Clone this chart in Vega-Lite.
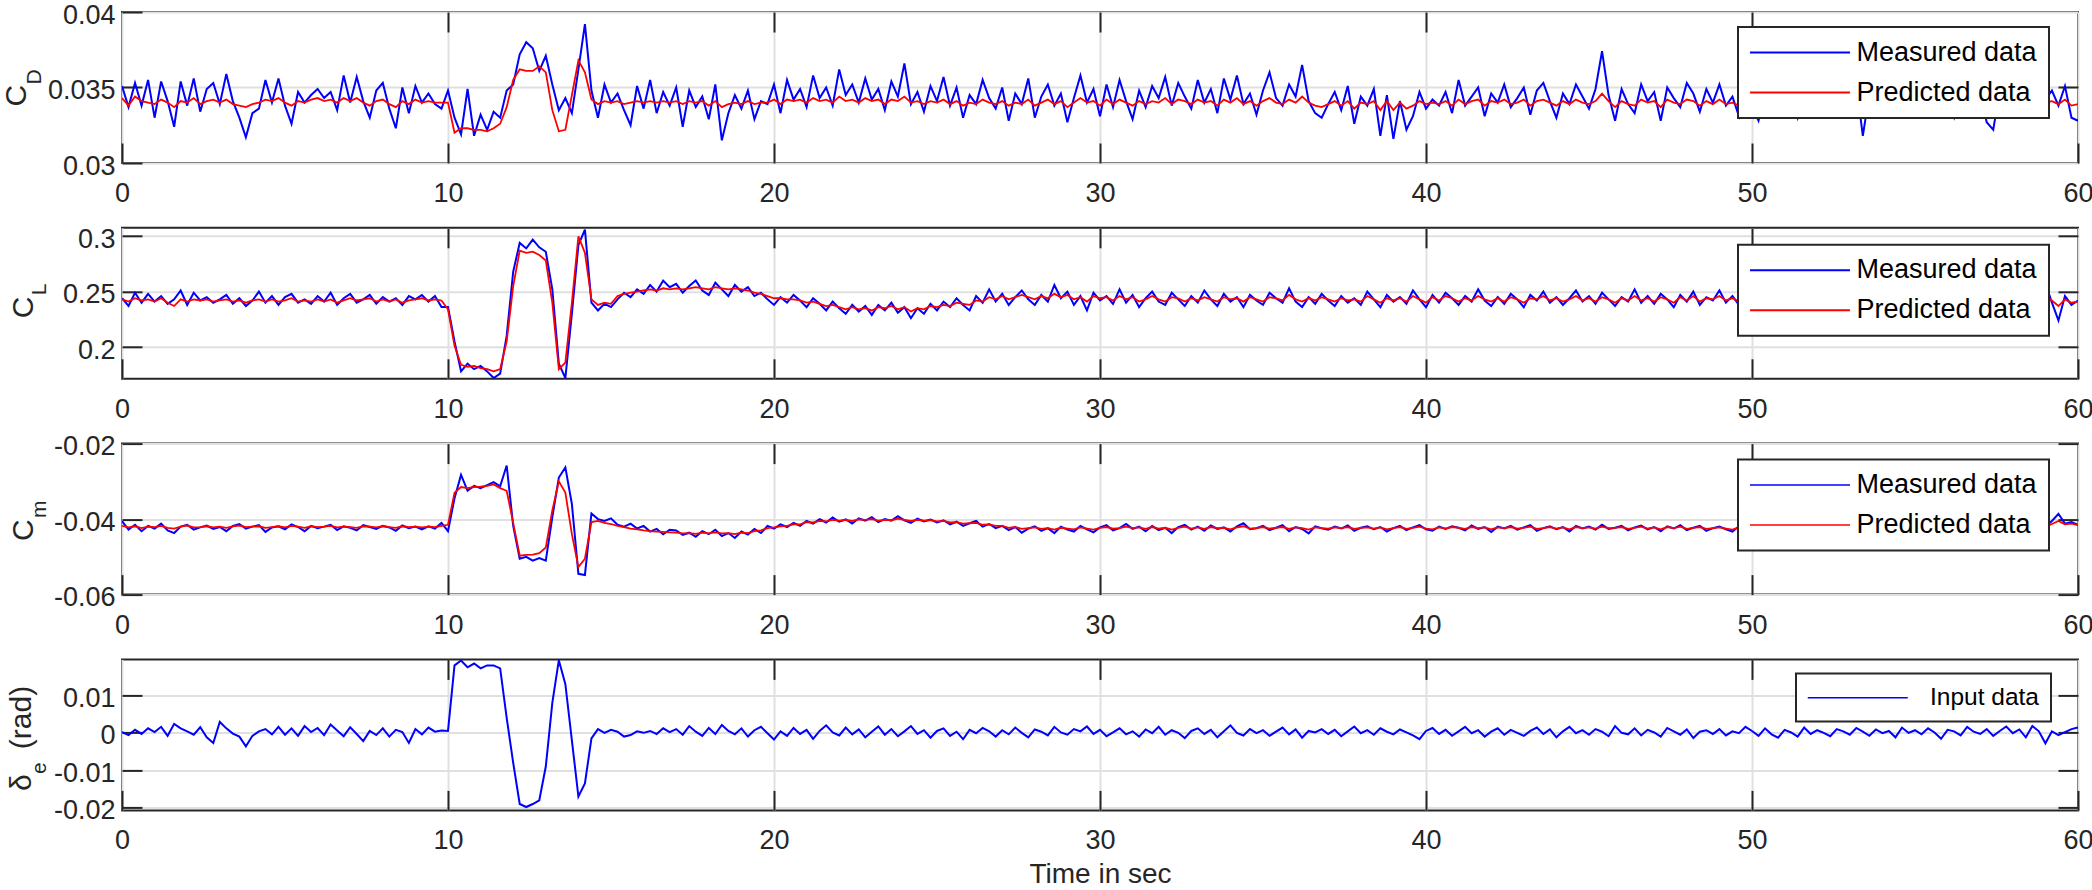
{
"$schema":"https://vega.github.io/schema/vega-lite/v6.json",
"background":"#ffffff",
"padding":0,
"config":{
 "font":"Liberation Sans",
 "view":{"stroke":"#262626","strokeWidth":2},
 "axis":{"labelFont":"Liberation Sans","labelFontSize":27,"labelColor":"#262626","titleFont":"Liberation Sans","titleFontWeight":"normal","titleColor":"#262626","tickColor":"#262626","tickWidth":2,"tickSize":-20,"domain":false,"gridColor":"#e0e0e0","gridWidth":2,"labelFlush":false,"labelOverlap":false},
 "legend":{"labelFont":"Liberation Sans","labelFontSize":27,"labelColor":"#000000","labelLimit":400,"padding":12,"rowPadding":12,"strokeColor":"#262626","fillColor":"#ffffff","cornerRadius":0}
},
"datasets":{"d":[
{"t":0,"cdM":0.0351,"cdP":0.0343,"clM":0.244,"clP":0.243,"cmM":-0.0405,"cmP":-0.0418,"de":0.0002},
{"t":0.2,"cdM":0.0337,"cdP":0.0338,"clM":0.237,"clP":0.241,"cmM":-0.0428,"cmP":-0.0422,"de":-0.0006},
{"t":0.4,"cdM":0.0353,"cdP":0.0344,"clM":0.249,"clP":0.244,"cmM":-0.0415,"cmP":-0.0419,"de":0.0008},
{"t":0.6,"cdM":0.0338,"cdP":0.0341,"clM":0.24,"clP":0.242,"cmM":-0.0432,"cmP":-0.0424,"de":-0.0003},
{"t":0.8,"cdM":0.0355,"cdP":0.034,"clM":0.248,"clP":0.243,"cmM":-0.0418,"cmP":-0.042,"de":0.0012},
{"t":1,"cdM":0.033,"cdP":0.0339,"clM":0.241,"clP":0.241,"cmM":-0.0425,"cmP":-0.0421,"de":0.0002},
{"t":1.2,"cdM":0.0354,"cdP":0.0342,"clM":0.246,"clP":0.244,"cmM":-0.0412,"cmP":-0.0418,"de":0.0016},
{"t":1.4,"cdM":0.0341,"cdP":0.034,"clM":0.239,"clP":0.24,"cmM":-0.043,"cmP":-0.0423,"de":-0.0008},
{"t":1.6,"cdM":0.0324,"cdP":0.0337,"clM":0.243,"clP":0.237,"cmM":-0.0437,"cmP":-0.0425,"de":0.0024},
{"t":1.8,"cdM":0.0354,"cdP":0.0341,"clM":0.251,"clP":0.243,"cmM":-0.042,"cmP":-0.042,"de":0.0012},
{"t":2,"cdM":0.0338,"cdP":0.034,"clM":0.238,"clP":0.241,"cmM":-0.0415,"cmP":-0.0417,"de":0.0004},
{"t":2.2,"cdM":0.0356,"cdP":0.0343,"clM":0.249,"clP":0.243,"cmM":-0.0428,"cmP":-0.0422,"de":-0.0005},
{"t":2.4,"cdM":0.0334,"cdP":0.0339,"clM":0.242,"clP":0.242,"cmM":-0.0422,"cmP":-0.0421,"de":0.0015},
{"t":2.6,"cdM":0.0349,"cdP":0.0341,"clM":0.245,"clP":0.243,"cmM":-0.0417,"cmP":-0.0419,"de":-0.0012},
{"t":2.8,"cdM":0.0353,"cdP":0.0342,"clM":0.24,"clP":0.241,"cmM":-0.0426,"cmP":-0.0422,"de":-0.0027},
{"t":3,"cdM":0.0339,"cdP":0.034,"clM":0.243,"clP":0.242,"cmM":-0.0421,"cmP":-0.042,"de":0.0029},
{"t":3.2,"cdM":0.0359,"cdP":0.0342,"clM":0.247,"clP":0.243,"cmM":-0.0432,"cmP":-0.0423,"de":0.0012},
{"t":3.4,"cdM":0.0341,"cdP":0.0339,"clM":0.239,"clP":0.241,"cmM":-0.0418,"cmP":-0.0419,"de":-0.0002},
{"t":3.6,"cdM":0.033,"cdP":0.0338,"clM":0.244,"clP":0.242,"cmM":-0.0413,"cmP":-0.0417,"de":-0.001},
{"t":3.8,"cdM":0.0317,"cdP":0.0337,"clM":0.237,"clP":0.24,"cmM":-0.0425,"cmP":-0.0421,"de":-0.0036},
{"t":4,"cdM":0.0333,"cdP":0.0339,"clM":0.242,"clP":0.242,"cmM":-0.042,"cmP":-0.042,"de":-0.0008},
{"t":4.2,"cdM":0.0336,"cdP":0.034,"clM":0.25,"clP":0.243,"cmM":-0.0416,"cmP":-0.0419,"de":0.0004},
{"t":4.4,"cdM":0.0355,"cdP":0.0342,"clM":0.24,"clP":0.241,"cmM":-0.0434,"cmP":-0.0423,"de":0.001},
{"t":4.6,"cdM":0.034,"cdP":0.0341,"clM":0.246,"clP":0.243,"cmM":-0.0422,"cmP":-0.0421,"de":-0.0004},
{"t":4.8,"cdM":0.0356,"cdP":0.0343,"clM":0.238,"clP":0.241,"cmM":-0.0419,"cmP":-0.0419,"de":0.0016},
{"t":5,"cdM":0.0338,"cdP":0.034,"clM":0.245,"clP":0.242,"cmM":-0.0427,"cmP":-0.0422,"de":-0.0005},
{"t":5.2,"cdM":0.0326,"cdP":0.0338,"clM":0.248,"clP":0.244,"cmM":-0.0414,"cmP":-0.0418,"de":0.0012},
{"t":5.4,"cdM":0.0347,"cdP":0.0341,"clM":0.24,"clP":0.241,"cmM":-0.0421,"cmP":-0.042,"de":-0.0008},
{"t":5.6,"cdM":0.034,"cdP":0.034,"clM":0.243,"clP":0.242,"cmM":-0.0432,"cmP":-0.0423,"de":0.0018},
{"t":5.8,"cdM":0.0345,"cdP":0.0342,"clM":0.239,"clP":0.241,"cmM":-0.0418,"cmP":-0.0419,"de":0.0002},
{"t":6,"cdM":0.0349,"cdP":0.0343,"clM":0.246,"clP":0.243,"cmM":-0.0424,"cmP":-0.0421,"de":0.0013},
{"t":6.2,"cdM":0.0343,"cdP":0.0341,"clM":0.241,"clP":0.241,"cmM":-0.042,"cmP":-0.042,"de":-0.0006},
{"t":6.4,"cdM":0.0347,"cdP":0.0342,"clM":0.249,"clP":0.243,"cmM":-0.0415,"cmP":-0.0418,"de":0.0022},
{"t":6.6,"cdM":0.0335,"cdP":0.034,"clM":0.238,"clP":0.24,"cmM":-0.0429,"cmP":-0.0422,"de":0.0006},
{"t":6.8,"cdM":0.0358,"cdP":0.0343,"clM":0.244,"clP":0.242,"cmM":-0.0419,"cmP":-0.042,"de":-0.0009},
{"t":7,"cdM":0.034,"cdP":0.0341,"clM":0.248,"clP":0.244,"cmM":-0.0423,"cmP":-0.0421,"de":0.0015},
{"t":7.2,"cdM":0.0357,"cdP":0.0343,"clM":0.24,"clP":0.242,"cmM":-0.043,"cmP":-0.0423,"de":-0.0003},
{"t":7.4,"cdM":0.0341,"cdP":0.034,"clM":0.243,"clP":0.243,"cmM":-0.0416,"cmP":-0.0419,"de":-0.0022},
{"t":7.6,"cdM":0.033,"cdP":0.0338,"clM":0.247,"clP":0.244,"cmM":-0.0421,"cmP":-0.042,"de":0.0005},
{"t":7.8,"cdM":0.0348,"cdP":0.0341,"clM":0.239,"clP":0.241,"cmM":-0.0426,"cmP":-0.0422,"de":-0.0006},
{"t":8,"cdM":0.0353,"cdP":0.0342,"clM":0.245,"clP":0.243,"cmM":-0.0418,"cmP":-0.0419,"de":0.0012},
{"t":8.2,"cdM":0.0336,"cdP":0.0339,"clM":0.241,"clP":0.241,"cmM":-0.0422,"cmP":-0.0421,"de":-0.001},
{"t":8.4,"cdM":0.0323,"cdP":0.0337,"clM":0.244,"clP":0.243,"cmM":-0.0431,"cmP":-0.0423,"de":0.0008},
{"t":8.6,"cdM":0.035,"cdP":0.0341,"clM":0.238,"clP":0.24,"cmM":-0.0417,"cmP":-0.0419,"de":0.0002},
{"t":8.8,"cdM":0.0333,"cdP":0.0339,"clM":0.246,"clP":0.242,"cmM":-0.0424,"cmP":-0.0421,"de":-0.0027},
{"t":9,"cdM":0.0351,"cdP":0.0342,"clM":0.243,"clP":0.243,"cmM":-0.042,"cmP":-0.042,"de":0.001},
{"t":9.2,"cdM":0.034,"cdP":0.034,"clM":0.247,"clP":0.244,"cmM":-0.0427,"cmP":-0.0422,"de":-0.0004},
{"t":9.4,"cdM":0.0346,"cdP":0.0341,"clM":0.241,"clP":0.242,"cmM":-0.0419,"cmP":-0.042,"de":0.0014},
{"t":9.6,"cdM":0.0339,"cdP":0.034,"clM":0.246,"clP":0.243,"cmM":-0.0425,"cmP":-0.0421,"de":0.0003},
{"t":9.8,"cdM":0.0336,"cdP":0.034,"clM":0.236,"clP":0.242,"cmM":-0.041,"cmP":-0.0418,"de":0.0006},
{"t":10,"cdM":0.0348,"cdP":0.034,"clM":0.236,"clP":0.234,"cmM":-0.0432,"cmP":-0.0415,"de":0.0005},
{"t":10.2,"cdM":0.033,"cdP":0.032,"clM":0.205,"clP":0.201,"cmM":-0.0345,"cmP":-0.033,"de":0.018},
{"t":10.4,"cdM":0.0319,"cdP":0.0323,"clM":0.178,"clP":0.184,"cmM":-0.0283,"cmP":-0.0315,"de":0.0193},
{"t":10.6,"cdM":0.0349,"cdP":0.0323,"clM":0.185,"clP":0.182,"cmM":-0.0325,"cmP":-0.0318,"de":0.0175},
{"t":10.8,"cdM":0.0318,"cdP":0.0322,"clM":0.18,"clP":0.183,"cmM":-0.0312,"cmP":-0.0315,"de":0.0185},
{"t":11,"cdM":0.0332,"cdP":0.0322,"clM":0.183,"clP":0.181,"cmM":-0.0318,"cmP":-0.0314,"de":0.0172},
{"t":11.2,"cdM":0.0322,"cdP":0.0321,"clM":0.178,"clP":0.18,"cmM":-0.031,"cmP":-0.0312,"de":0.018},
{"t":11.4,"cdM":0.0334,"cdP":0.0323,"clM":0.172,"clP":0.178,"cmM":-0.0302,"cmP":-0.0308,"de":0.018},
{"t":11.6,"cdM":0.033,"cdP":0.0326,"clM":0.176,"clP":0.18,"cmM":-0.0313,"cmP":-0.0318,"de":0.0172},
{"t":11.8,"cdM":0.0348,"cdP":0.0337,"clM":0.21,"clP":0.205,"cmM":-0.0258,"cmP":-0.0325,"de":0.004},
{"t":12,"cdM":0.0352,"cdP":0.0355,"clM":0.268,"clP":0.255,"cmM":-0.0418,"cmP":-0.041,"de":-0.008},
{"t":12.2,"cdM":0.0372,"cdP":0.0362,"clM":0.294,"clP":0.287,"cmM":-0.0505,"cmP":-0.0497,"de":-0.019},
{"t":12.4,"cdM":0.038,"cdP":0.0361,"clM":0.289,"clP":0.285,"cmM":-0.05,"cmP":-0.0495,"de":-0.0198},
{"t":12.6,"cdM":0.0376,"cdP":0.0361,"clM":0.297,"clP":0.286,"cmM":-0.051,"cmP":-0.0494,"de":-0.019},
{"t":12.8,"cdM":0.0361,"cdP":0.0364,"clM":0.29,"clP":0.283,"cmM":-0.0503,"cmP":-0.049,"de":-0.018},
{"t":13,"cdM":0.0371,"cdP":0.036,"clM":0.286,"clP":0.278,"cmM":-0.051,"cmP":-0.0475,"de":-0.009},
{"t":13.2,"cdM":0.0352,"cdP":0.0335,"clM":0.252,"clP":0.24,"cmM":-0.0395,"cmP":-0.0377,"de":0.008},
{"t":13.4,"cdM":0.0335,"cdP":0.0321,"clM":0.185,"clP":0.18,"cmM":-0.029,"cmP":-0.03,"de":0.0194},
{"t":13.6,"cdM":0.0343,"cdP":0.0322,"clM":0.172,"clP":0.186,"cmM":-0.0263,"cmP":-0.033,"de":0.013},
{"t":13.8,"cdM":0.0333,"cdP":0.0345,"clM":0.23,"clP":0.24,"cmM":-0.036,"cmP":-0.044,"de":-0.002},
{"t":14,"cdM":0.0362,"cdP":0.0368,"clM":0.292,"clP":0.3,"cmM":-0.0545,"cmP":-0.0527,"de":-0.017},
{"t":14.2,"cdM":0.0392,"cdP":0.036,"clM":0.306,"clP":0.285,"cmM":-0.0548,"cmP":-0.0505,"de":-0.0135},
{"t":14.4,"cdM":0.0348,"cdP":0.0342,"clM":0.24,"clP":0.243,"cmM":-0.0385,"cmP":-0.0408,"de":-0.0015},
{"t":14.6,"cdM":0.033,"cdP":0.0339,"clM":0.233,"clP":0.238,"cmM":-0.04,"cmP":-0.0405,"de":0.001},
{"t":14.8,"cdM":0.0352,"cdP":0.0341,"clM":0.239,"clP":0.24,"cmM":-0.0405,"cmP":-0.041,"de":0},
{"t":15,"cdM":0.034,"cdP":0.034,"clM":0.236,"clP":0.239,"cmM":-0.0398,"cmP":-0.0413,"de":0.0008},
{"t":15.2,"cdM":0.0346,"cdP":0.0341,"clM":0.243,"clP":0.246,"cmM":-0.0415,"cmP":-0.0418,"de":0.0003},
{"t":15.4,"cdM":0.0335,"cdP":0.0339,"clM":0.249,"clP":0.248,"cmM":-0.042,"cmP":-0.0421,"de":-0.001},
{"t":15.6,"cdM":0.0325,"cdP":0.034,"clM":0.245,"clP":0.249,"cmM":-0.0412,"cmP":-0.0425,"de":-0.0006},
{"t":15.8,"cdM":0.0351,"cdP":0.0341,"clM":0.252,"clP":0.25,"cmM":-0.0425,"cmP":-0.0427,"de":0.0004},
{"t":16,"cdM":0.0336,"cdP":0.034,"clM":0.248,"clP":0.251,"cmM":-0.0418,"cmP":-0.043,"de":0},
{"t":16.2,"cdM":0.0355,"cdP":0.0341,"clM":0.256,"clP":0.252,"cmM":-0.0433,"cmP":-0.0432,"de":0.0005},
{"t":16.4,"cdM":0.0333,"cdP":0.034,"clM":0.25,"clP":0.251,"cmM":-0.0426,"cmP":-0.0433,"de":-0.0003},
{"t":16.6,"cdM":0.0347,"cdP":0.0341,"clM":0.26,"clP":0.253,"cmM":-0.044,"cmP":-0.0434,"de":0.0012},
{"t":16.8,"cdM":0.0338,"cdP":0.034,"clM":0.254,"clP":0.252,"cmM":-0.0428,"cmP":-0.0435,"de":0.0002},
{"t":17,"cdM":0.035,"cdP":0.0341,"clM":0.257,"clP":0.253,"cmM":-0.043,"cmP":-0.0436,"de":0.001},
{"t":17.2,"cdM":0.0324,"cdP":0.0339,"clM":0.249,"clP":0.252,"cmM":-0.0442,"cmP":-0.0438,"de":-0.0005},
{"t":17.4,"cdM":0.0348,"cdP":0.0341,"clM":0.255,"clP":0.253,"cmM":-0.0436,"cmP":-0.0437,"de":0.0018},
{"t":17.6,"cdM":0.0337,"cdP":0.034,"clM":0.26,"clP":0.254,"cmM":-0.0447,"cmP":-0.0439,"de":0.0003},
{"t":17.8,"cdM":0.0344,"cdP":0.0341,"clM":0.251,"clP":0.253,"cmM":-0.0432,"cmP":-0.0436,"de":-0.0008},
{"t":18,"cdM":0.0329,"cdP":0.0338,"clM":0.247,"clP":0.252,"cmM":-0.044,"cmP":-0.0438,"de":0.0013},
{"t":18.2,"cdM":0.0352,"cdP":0.0341,"clM":0.258,"clP":0.254,"cmM":-0.0428,"cmP":-0.0435,"de":-0.0003},
{"t":18.4,"cdM":0.0315,"cdP":0.0337,"clM":0.252,"clP":0.253,"cmM":-0.0445,"cmP":-0.0438,"de":0.0021},
{"t":18.6,"cdM":0.0333,"cdP":0.0339,"clM":0.246,"clP":0.252,"cmM":-0.0437,"cmP":-0.0437,"de":0.0005},
{"t":18.8,"cdM":0.0345,"cdP":0.034,"clM":0.256,"clP":0.253,"cmM":-0.045,"cmP":-0.044,"de":-0.0004},
{"t":19,"cdM":0.0336,"cdP":0.0339,"clM":0.25,"clP":0.252,"cmM":-0.0433,"cmP":-0.0436,"de":0.0012},
{"t":19.2,"cdM":0.0348,"cdP":0.0341,"clM":0.254,"clP":0.251,"cmM":-0.0441,"cmP":-0.0437,"de":-0.001},
{"t":19.4,"cdM":0.0329,"cdP":0.0339,"clM":0.246,"clP":0.249,"cmM":-0.0426,"cmP":-0.0432,"de":0.0007},
{"t":19.6,"cdM":0.0341,"cdP":0.034,"clM":0.249,"clP":0.248,"cmM":-0.0437,"cmP":-0.043,"de":0.0016},
{"t":19.8,"cdM":0.0339,"cdP":0.034,"clM":0.243,"clP":0.246,"cmM":-0.0418,"cmP":-0.0424,"de":-0.0001},
{"t":20,"cdM":0.0352,"cdP":0.0342,"clM":0.238,"clP":0.244,"cmM":-0.0425,"cmP":-0.0422,"de":-0.0018},
{"t":20.2,"cdM":0.0333,"cdP":0.0339,"clM":0.245,"clP":0.244,"cmM":-0.0414,"cmP":-0.0419,"de":0.0004},
{"t":20.4,"cdM":0.0355,"cdP":0.0342,"clM":0.24,"clP":0.243,"cmM":-0.0421,"cmP":-0.0418,"de":-0.0008},
{"t":20.6,"cdM":0.0342,"cdP":0.0341,"clM":0.247,"clP":0.243,"cmM":-0.041,"cmP":-0.0414,"de":0.0013},
{"t":20.8,"cdM":0.0349,"cdP":0.0342,"clM":0.242,"clP":0.242,"cmM":-0.0418,"cmP":-0.0414,"de":-0.0003},
{"t":21,"cdM":0.0337,"cdP":0.034,"clM":0.236,"clP":0.24,"cmM":-0.0405,"cmP":-0.0408,"de":0.0008},
{"t":21.2,"cdM":0.0358,"cdP":0.0343,"clM":0.244,"clP":0.241,"cmM":-0.0412,"cmP":-0.0409,"de":-0.0016},
{"t":21.4,"cdM":0.0343,"cdP":0.0341,"clM":0.239,"clP":0.239,"cmM":-0.04,"cmP":-0.0405,"de":0.0005},
{"t":21.6,"cdM":0.035,"cdP":0.0342,"clM":0.233,"clP":0.237,"cmM":-0.0409,"cmP":-0.0406,"de":0.002},
{"t":21.8,"cdM":0.0338,"cdP":0.034,"clM":0.241,"clP":0.238,"cmM":-0.0396,"cmP":-0.0402,"de":0.0001},
{"t":22,"cdM":0.0362,"cdP":0.0344,"clM":0.235,"clP":0.236,"cmM":-0.0407,"cmP":-0.0404,"de":-0.0007},
{"t":22.2,"cdM":0.0345,"cdP":0.0341,"clM":0.23,"clP":0.234,"cmM":-0.0401,"cmP":-0.0402,"de":0.0014},
{"t":22.4,"cdM":0.0352,"cdP":0.0342,"clM":0.238,"clP":0.236,"cmM":-0.0412,"cmP":-0.0405,"de":-0.0004},
{"t":22.6,"cdM":0.034,"cdP":0.034,"clM":0.232,"clP":0.234,"cmM":-0.0398,"cmP":-0.0401,"de":0.0009},
{"t":22.8,"cdM":0.0356,"cdP":0.0343,"clM":0.237,"clP":0.235,"cmM":-0.0404,"cmP":-0.0402,"de":-0.0012},
{"t":23,"cdM":0.0342,"cdP":0.0341,"clM":0.229,"clP":0.233,"cmM":-0.0395,"cmP":-0.04,"de":0.0003},
{"t":23.2,"cdM":0.0349,"cdP":0.0342,"clM":0.238,"clP":0.236,"cmM":-0.0408,"cmP":-0.0404,"de":0.0017},
{"t":23.4,"cdM":0.0335,"cdP":0.0339,"clM":0.233,"clP":0.235,"cmM":-0.04,"cmP":-0.0402,"de":-0.0005},
{"t":23.6,"cdM":0.0354,"cdP":0.0342,"clM":0.24,"clP":0.237,"cmM":-0.0404,"cmP":-0.0403,"de":0.001},
{"t":23.8,"cdM":0.0344,"cdP":0.0341,"clM":0.231,"clP":0.234,"cmM":-0.0392,"cmP":-0.0399,"de":-0.0009},
{"t":24,"cdM":0.0366,"cdP":0.0344,"clM":0.236,"clP":0.236,"cmM":-0.0403,"cmP":-0.0402,"de":0.0004},
{"t":24.2,"cdM":0.0339,"cdP":0.034,"clM":0.226,"clP":0.232,"cmM":-0.041,"cmP":-0.0405,"de":0.0018},
{"t":24.4,"cdM":0.0347,"cdP":0.0341,"clM":0.235,"clP":0.235,"cmM":-0.0399,"cmP":-0.0402,"de":-0.0003},
{"t":24.6,"cdM":0.0334,"cdP":0.0339,"clM":0.23,"clP":0.234,"cmM":-0.0406,"cmP":-0.0404,"de":0.0007},
{"t":24.8,"cdM":0.0351,"cdP":0.0341,"clM":0.239,"clP":0.237,"cmM":-0.0401,"cmP":-0.0403,"de":-0.0013},
{"t":25,"cdM":0.0341,"cdP":0.034,"clM":0.233,"clP":0.236,"cmM":-0.0409,"cmP":-0.0406,"de":0.0005},
{"t":25.2,"cdM":0.0357,"cdP":0.0342,"clM":0.241,"clP":0.238,"cmM":-0.0403,"cmP":-0.0405,"de":0.0012},
{"t":25.4,"cdM":0.0338,"cdP":0.0339,"clM":0.236,"clP":0.237,"cmM":-0.0414,"cmP":-0.0409,"de":-0.0008},
{"t":25.6,"cdM":0.035,"cdP":0.0341,"clM":0.244,"clP":0.24,"cmM":-0.0407,"cmP":-0.0408,"de":0.0003},
{"t":25.8,"cdM":0.033,"cdP":0.0338,"clM":0.238,"clP":0.239,"cmM":-0.0418,"cmP":-0.0412,"de":-0.0017},
{"t":26,"cdM":0.0345,"cdP":0.034,"clM":0.233,"clP":0.238,"cmM":-0.0411,"cmP":-0.0411,"de":0.0008},
{"t":26.2,"cdM":0.0339,"cdP":0.0339,"clM":0.246,"clP":0.242,"cmM":-0.0405,"cmP":-0.041,"de":-0.0001},
{"t":26.4,"cdM":0.0355,"cdP":0.0342,"clM":0.24,"clP":0.241,"cmM":-0.042,"cmP":-0.0415,"de":0.0013},
{"t":26.6,"cdM":0.0343,"cdP":0.034,"clM":0.252,"clP":0.245,"cmM":-0.0413,"cmP":-0.0414,"de":0.0004},
{"t":26.8,"cdM":0.0336,"cdP":0.0339,"clM":0.241,"clP":0.243,"cmM":-0.0424,"cmP":-0.0418,"de":-0.001},
{"t":27,"cdM":0.035,"cdP":0.0341,"clM":0.248,"clP":0.246,"cmM":-0.0418,"cmP":-0.0418,"de":0.0007},
{"t":27.2,"cdM":0.0328,"cdP":0.0338,"clM":0.238,"clP":0.243,"cmM":-0.0429,"cmP":-0.0423,"de":-0.0004},
{"t":27.4,"cdM":0.0346,"cdP":0.034,"clM":0.245,"clP":0.245,"cmM":-0.0421,"cmP":-0.0421,"de":0.0014},
{"t":27.6,"cdM":0.0339,"cdP":0.0339,"clM":0.251,"clP":0.247,"cmM":-0.0436,"cmP":-0.0426,"de":0},
{"t":27.8,"cdM":0.0356,"cdP":0.0342,"clM":0.243,"clP":0.245,"cmM":-0.0425,"cmP":-0.0424,"de":-0.0012},
{"t":28,"cdM":0.033,"cdP":0.0338,"clM":0.238,"clP":0.243,"cmM":-0.0419,"cmP":-0.0422,"de":0.0009},
{"t":28.2,"cdM":0.0344,"cdP":0.034,"clM":0.247,"clP":0.246,"cmM":-0.0431,"cmP":-0.0426,"de":0.0003},
{"t":28.4,"cdM":0.0352,"cdP":0.0342,"clM":0.241,"clP":0.244,"cmM":-0.0424,"cmP":-0.0424,"de":-0.0007},
{"t":28.6,"cdM":0.0338,"cdP":0.0339,"clM":0.256,"clP":0.248,"cmM":-0.0437,"cmP":-0.0428,"de":0.0016},
{"t":28.8,"cdM":0.0346,"cdP":0.0341,"clM":0.244,"clP":0.245,"cmM":-0.042,"cmP":-0.0423,"de":0.0001},
{"t":29,"cdM":0.0327,"cdP":0.0337,"clM":0.25,"clP":0.247,"cmM":-0.0428,"cmP":-0.0425,"de":-0.0005},
{"t":29.2,"cdM":0.0343,"cdP":0.034,"clM":0.238,"clP":0.243,"cmM":-0.0433,"cmP":-0.0427,"de":0.001},
{"t":29.4,"cdM":0.0358,"cdP":0.0343,"clM":0.246,"clP":0.245,"cmM":-0.0418,"cmP":-0.0422,"de":0.0004},
{"t":29.6,"cdM":0.034,"cdP":0.034,"clM":0.233,"clP":0.241,"cmM":-0.0427,"cmP":-0.0425,"de":0.0017},
{"t":29.8,"cdM":0.0349,"cdP":0.0341,"clM":0.249,"clP":0.246,"cmM":-0.0435,"cmP":-0.0428,"de":-0.0003},
{"t":30,"cdM":0.0331,"cdP":0.0338,"clM":0.242,"clP":0.244,"cmM":-0.0422,"cmP":-0.0423,"de":0.0008},
{"t":30.2,"cdM":0.0352,"cdP":0.0342,"clM":0.246,"clP":0.245,"cmM":-0.0416,"cmP":-0.0421,"de":-0.0009},
{"t":30.4,"cdM":0.0337,"cdP":0.0339,"clM":0.239,"clP":0.242,"cmM":-0.043,"cmP":-0.0425,"de":0.0001},
{"t":30.6,"cdM":0.0355,"cdP":0.0342,"clM":0.252,"clP":0.246,"cmM":-0.0424,"cmP":-0.0424,"de":0.0012},
{"t":30.8,"cdM":0.0341,"cdP":0.034,"clM":0.24,"clP":0.243,"cmM":-0.0413,"cmP":-0.042,"de":-0.0004},
{"t":31,"cdM":0.0329,"cdP":0.0338,"clM":0.247,"clP":0.245,"cmM":-0.0426,"cmP":-0.0424,"de":0.0004},
{"t":31.2,"cdM":0.0348,"cdP":0.0341,"clM":0.236,"clP":0.241,"cmM":-0.042,"cmP":-0.0422,"de":-0.001},
{"t":31.4,"cdM":0.0337,"cdP":0.0339,"clM":0.244,"clP":0.243,"cmM":-0.0432,"cmP":-0.0426,"de":0.0009},
{"t":31.6,"cdM":0.0351,"cdP":0.0341,"clM":0.25,"clP":0.246,"cmM":-0.0418,"cmP":-0.0421,"de":-0.0001},
{"t":31.8,"cdM":0.0343,"cdP":0.034,"clM":0.241,"clP":0.243,"cmM":-0.0429,"cmP":-0.0425,"de":0.0016},
{"t":32,"cdM":0.0357,"cdP":0.0343,"clM":0.238,"clP":0.241,"cmM":-0.0423,"cmP":-0.0423,"de":-0.0005},
{"t":32.2,"cdM":0.0338,"cdP":0.0339,"clM":0.249,"clP":0.245,"cmM":-0.0437,"cmP":-0.0428,"de":0.0007},
{"t":32.4,"cdM":0.0353,"cdP":0.0342,"clM":0.243,"clP":0.244,"cmM":-0.0421,"cmP":-0.0423,"de":0},
{"t":32.6,"cdM":0.0344,"cdP":0.0341,"clM":0.237,"clP":0.241,"cmM":-0.0415,"cmP":-0.042,"de":-0.0014},
{"t":32.8,"cdM":0.0336,"cdP":0.0339,"clM":0.246,"clP":0.244,"cmM":-0.0428,"cmP":-0.0425,"de":0.0005},
{"t":33,"cdM":0.0355,"cdP":0.0342,"clM":0.24,"clP":0.242,"cmM":-0.042,"cmP":-0.0422,"de":0.0012},
{"t":33.2,"cdM":0.034,"cdP":0.034,"clM":0.251,"clP":0.245,"cmM":-0.0431,"cmP":-0.0426,"de":-0.0003},
{"t":33.4,"cdM":0.0349,"cdP":0.0341,"clM":0.243,"clP":0.243,"cmM":-0.0417,"cmP":-0.0421,"de":0.0008},
{"t":33.6,"cdM":0.0333,"cdP":0.0338,"clM":0.237,"clP":0.241,"cmM":-0.0426,"cmP":-0.0424,"de":-0.0012},
{"t":33.8,"cdM":0.0356,"cdP":0.0342,"clM":0.248,"clP":0.245,"cmM":-0.0422,"cmP":-0.0423,"de":0.0004},
{"t":34,"cdM":0.0342,"cdP":0.034,"clM":0.241,"clP":0.243,"cmM":-0.0433,"cmP":-0.0427,"de":0.002},
{"t":34.2,"cdM":0.0358,"cdP":0.0343,"clM":0.245,"clP":0.244,"cmM":-0.0419,"cmP":-0.0422,"de":0},
{"t":34.4,"cdM":0.0339,"cdP":0.0339,"clM":0.236,"clP":0.241,"cmM":-0.0411,"cmP":-0.0419,"de":-0.0007},
{"t":34.6,"cdM":0.0346,"cdP":0.0341,"clM":0.247,"clP":0.245,"cmM":-0.0427,"cmP":-0.0425,"de":0.001},
{"t":34.8,"cdM":0.0332,"cdP":0.0338,"clM":0.242,"clP":0.243,"cmM":-0.0424,"cmP":-0.0424,"de":-0.0001},
{"t":35,"cdM":0.0348,"cdP":0.0341,"clM":0.238,"clP":0.241,"cmM":-0.0418,"cmP":-0.0421,"de":0.0007},
{"t":35.2,"cdM":0.036,"cdP":0.0343,"clM":0.249,"clP":0.245,"cmM":-0.0429,"cmP":-0.0425,"de":-0.0008},
{"t":35.4,"cdM":0.0343,"cdP":0.034,"clM":0.244,"clP":0.244,"cmM":-0.0423,"cmP":-0.0423,"de":0.0003},
{"t":35.6,"cdM":0.0338,"cdP":0.0339,"clM":0.24,"clP":0.242,"cmM":-0.0416,"cmP":-0.0421,"de":0.0014},
{"t":35.8,"cdM":0.0352,"cdP":0.0342,"clM":0.253,"clP":0.247,"cmM":-0.0432,"cmP":-0.0426,"de":-0.0004},
{"t":36,"cdM":0.0344,"cdP":0.034,"clM":0.241,"clP":0.243,"cmM":-0.0421,"cmP":-0.0422,"de":0.0009},
{"t":36.2,"cdM":0.0365,"cdP":0.0344,"clM":0.236,"clP":0.241,"cmM":-0.0426,"cmP":-0.0424,"de":-0.0013},
{"t":36.4,"cdM":0.0341,"cdP":0.034,"clM":0.245,"clP":0.244,"cmM":-0.0438,"cmP":-0.0428,"de":0.0005},
{"t":36.6,"cdM":0.0333,"cdP":0.0338,"clM":0.239,"clP":0.242,"cmM":-0.0419,"cmP":-0.0422,"de":0.0001},
{"t":36.8,"cdM":0.033,"cdP":0.0337,"clM":0.248,"clP":0.245,"cmM":-0.0424,"cmP":-0.0424,"de":0.001},
{"t":37,"cdM":0.0339,"cdP":0.0339,"clM":0.242,"clP":0.243,"cmM":-0.0428,"cmP":-0.0425,"de":-0.0003},
{"t":37.2,"cdM":0.0347,"cdP":0.0341,"clM":0.237,"clP":0.241,"cmM":-0.042,"cmP":-0.0422,"de":0.0008},
{"t":37.4,"cdM":0.0335,"cdP":0.0338,"clM":0.246,"clP":0.244,"cmM":-0.0425,"cmP":-0.0424,"de":-0.0009},
{"t":37.6,"cdM":0.0351,"cdP":0.0341,"clM":0.24,"clP":0.242,"cmM":-0.0417,"cmP":-0.0421,"de":0.0004},
{"t":37.8,"cdM":0.0326,"cdP":0.0336,"clM":0.244,"clP":0.243,"cmM":-0.0431,"cmP":-0.0426,"de":0.0017},
{"t":38,"cdM":0.0344,"cdP":0.034,"clM":0.238,"clP":0.241,"cmM":-0.0423,"cmP":-0.0423,"de":-0.0001},
{"t":38.2,"cdM":0.0338,"cdP":0.0339,"clM":0.25,"clP":0.246,"cmM":-0.0419,"cmP":-0.0422,"de":0.0007},
{"t":38.4,"cdM":0.0349,"cdP":0.0341,"clM":0.243,"clP":0.243,"cmM":-0.0427,"cmP":-0.0425,"de":-0.0005},
{"t":38.6,"cdM":0.0318,"cdP":0.0335,"clM":0.236,"clP":0.24,"cmM":-0.0421,"cmP":-0.0422,"de":0.0012},
{"t":38.8,"cdM":0.0345,"cdP":0.0341,"clM":0.247,"clP":0.244,"cmM":-0.0433,"cmP":-0.0427,"de":0.0003},
{"t":39,"cdM":0.0316,"cdP":0.0335,"clM":0.241,"clP":0.242,"cmM":-0.0424,"cmP":-0.0424,"de":-0.0004},
{"t":39.2,"cdM":0.0341,"cdP":0.034,"clM":0.245,"clP":0.244,"cmM":-0.0418,"cmP":-0.0421,"de":0.0009},
{"t":39.4,"cdM":0.0322,"cdP":0.0336,"clM":0.239,"clP":0.241,"cmM":-0.0429,"cmP":-0.0426,"de":0.0001},
{"t":39.6,"cdM":0.0331,"cdP":0.0338,"clM":0.251,"clP":0.246,"cmM":-0.0422,"cmP":-0.0423,"de":-0.0007},
{"t":39.8,"cdM":0.0347,"cdP":0.0341,"clM":0.243,"clP":0.243,"cmM":-0.0416,"cmP":-0.042,"de":-0.0017},
{"t":40,"cdM":0.0336,"cdP":0.0339,"clM":0.236,"clP":0.24,"cmM":-0.0427,"cmP":-0.0425,"de":0.0005},
{"t":40.2,"cdM":0.0342,"cdP":0.034,"clM":0.247,"clP":0.245,"cmM":-0.0431,"cmP":-0.0427,"de":0.0013},
{"t":40.4,"cdM":0.0338,"cdP":0.0339,"clM":0.24,"clP":0.242,"cmM":-0.042,"cmP":-0.0422,"de":-0.0003},
{"t":40.6,"cdM":0.0347,"cdP":0.0341,"clM":0.249,"clP":0.246,"cmM":-0.0426,"cmP":-0.0425,"de":0.0008},
{"t":40.8,"cdM":0.0333,"cdP":0.0338,"clM":0.244,"clP":0.244,"cmM":-0.0419,"cmP":-0.0421,"de":-0.0008},
{"t":41,"cdM":0.0355,"cdP":0.0342,"clM":0.238,"clP":0.241,"cmM":-0.0423,"cmP":-0.0423,"de":0.0004},
{"t":41.2,"cdM":0.0338,"cdP":0.0339,"clM":0.246,"clP":0.244,"cmM":-0.043,"cmP":-0.0426,"de":0.0016},
{"t":41.4,"cdM":0.0344,"cdP":0.0341,"clM":0.241,"clP":0.242,"cmM":-0.0417,"cmP":-0.0421,"de":-0.0001},
{"t":41.6,"cdM":0.035,"cdP":0.0342,"clM":0.252,"clP":0.246,"cmM":-0.0426,"cmP":-0.0424,"de":0.0007},
{"t":41.8,"cdM":0.0331,"cdP":0.0338,"clM":0.242,"clP":0.243,"cmM":-0.0421,"cmP":-0.0422,"de":-0.001},
{"t":42,"cdM":0.0346,"cdP":0.0341,"clM":0.237,"clP":0.241,"cmM":-0.0434,"cmP":-0.0427,"de":0.0003},
{"t":42.2,"cdM":0.034,"cdP":0.034,"clM":0.245,"clP":0.244,"cmM":-0.042,"cmP":-0.0422,"de":0.0012},
{"t":42.4,"cdM":0.0352,"cdP":0.0342,"clM":0.239,"clP":0.241,"cmM":-0.0425,"cmP":-0.0424,"de":-0.0005},
{"t":42.6,"cdM":0.0337,"cdP":0.0339,"clM":0.248,"clP":0.245,"cmM":-0.0418,"cmP":-0.0421,"de":0.0008},
{"t":42.8,"cdM":0.0343,"cdP":0.034,"clM":0.243,"clP":0.243,"cmM":-0.0428,"cmP":-0.0425,"de":0},
{"t":43,"cdM":0.035,"cdP":0.0342,"clM":0.236,"clP":0.24,"cmM":-0.0422,"cmP":-0.0423,"de":-0.0008},
{"t":43.2,"cdM":0.0332,"cdP":0.0338,"clM":0.247,"clP":0.244,"cmM":-0.0416,"cmP":-0.042,"de":0.0005},
{"t":43.4,"cdM":0.0348,"cdP":0.0341,"clM":0.242,"clP":0.243,"cmM":-0.0431,"cmP":-0.0426,"de":0.0014},
{"t":43.6,"cdM":0.0353,"cdP":0.0342,"clM":0.25,"clP":0.246,"cmM":-0.0424,"cmP":-0.0424,"de":-0.0003},
{"t":43.8,"cdM":0.0341,"cdP":0.034,"clM":0.24,"clP":0.242,"cmM":-0.0419,"cmP":-0.0421,"de":0.0009},
{"t":44,"cdM":0.033,"cdP":0.0338,"clM":0.245,"clP":0.244,"cmM":-0.0427,"cmP":-0.0425,"de":-0.0012},
{"t":44.2,"cdM":0.0346,"cdP":0.0341,"clM":0.238,"clP":0.241,"cmM":-0.0421,"cmP":-0.0422,"de":0.0004},
{"t":44.4,"cdM":0.0339,"cdP":0.0339,"clM":0.244,"clP":0.243,"cmM":-0.0433,"cmP":-0.0427,"de":0.0016},
{"t":44.6,"cdM":0.0352,"cdP":0.0342,"clM":0.251,"clP":0.246,"cmM":-0.0418,"cmP":-0.0421,"de":-0.0001},
{"t":44.8,"cdM":0.0344,"cdP":0.034,"clM":0.241,"clP":0.242,"cmM":-0.0425,"cmP":-0.0424,"de":0.0007},
{"t":45,"cdM":0.0336,"cdP":0.0339,"clM":0.246,"clP":0.244,"cmM":-0.042,"cmP":-0.0422,"de":-0.0005},
{"t":45.2,"cdM":0.0349,"cdP":0.0341,"clM":0.239,"clP":0.241,"cmM":-0.0428,"cmP":-0.0425,"de":0.001},
{"t":45.4,"cdM":0.0374,"cdP":0.0346,"clM":0.249,"clP":0.245,"cmM":-0.0415,"cmP":-0.042,"de":0.0003},
{"t":45.6,"cdM":0.0345,"cdP":0.0341,"clM":0.243,"clP":0.243,"cmM":-0.0426,"cmP":-0.0424,"de":-0.0009},
{"t":45.8,"cdM":0.0328,"cdP":0.0337,"clM":0.237,"clP":0.24,"cmM":-0.0423,"cmP":-0.0423,"de":0.0018},
{"t":46,"cdM":0.0349,"cdP":0.0341,"clM":0.245,"clP":0.244,"cmM":-0.0418,"cmP":-0.0421,"de":0},
{"t":46.2,"cdM":0.0339,"cdP":0.0339,"clM":0.241,"clP":0.242,"cmM":-0.043,"cmP":-0.0426,"de":-0.0004},
{"t":46.4,"cdM":0.0333,"cdP":0.0338,"clM":0.252,"clP":0.246,"cmM":-0.0422,"cmP":-0.0423,"de":0.0012},
{"t":46.6,"cdM":0.0352,"cdP":0.0342,"clM":0.24,"clP":0.242,"cmM":-0.0417,"cmP":-0.042,"de":-0.0007},
{"t":46.8,"cdM":0.0341,"cdP":0.034,"clM":0.246,"clP":0.244,"cmM":-0.0427,"cmP":-0.0425,"de":0.0008},
{"t":47,"cdM":0.0347,"cdP":0.0341,"clM":0.239,"clP":0.241,"cmM":-0.0421,"cmP":-0.0422,"de":0.0001},
{"t":47.2,"cdM":0.0328,"cdP":0.0337,"clM":0.248,"clP":0.245,"cmM":-0.0432,"cmP":-0.0427,"de":-0.001},
{"t":47.4,"cdM":0.035,"cdP":0.0342,"clM":0.243,"clP":0.243,"cmM":-0.0419,"cmP":-0.0421,"de":0.0013},
{"t":47.6,"cdM":0.0343,"cdP":0.034,"clM":0.236,"clP":0.24,"cmM":-0.0425,"cmP":-0.0424,"de":0.0004},
{"t":47.8,"cdM":0.0337,"cdP":0.0339,"clM":0.247,"clP":0.245,"cmM":-0.0416,"cmP":-0.042,"de":-0.0005},
{"t":48,"cdM":0.0353,"cdP":0.0342,"clM":0.241,"clP":0.242,"cmM":-0.0429,"cmP":-0.0426,"de":0.0009},
{"t":48.2,"cdM":0.0346,"cdP":0.0341,"clM":0.25,"clP":0.246,"cmM":-0.0423,"cmP":-0.0423,"de":-0.0014},
{"t":48.4,"cdM":0.0334,"cdP":0.0338,"clM":0.238,"clP":0.241,"cmM":-0.0418,"cmP":-0.0421,"de":0.0003},
{"t":48.6,"cdM":0.0349,"cdP":0.0341,"clM":0.245,"clP":0.244,"cmM":-0.0431,"cmP":-0.0426,"de":0.0007},
{"t":48.8,"cdM":0.034,"cdP":0.0339,"clM":0.242,"clP":0.243,"cmM":-0.0424,"cmP":-0.0424,"de":-0.0003},
{"t":49,"cdM":0.0352,"cdP":0.0342,"clM":0.251,"clP":0.246,"cmM":-0.042,"cmP":-0.0422,"de":0.001},
{"t":49.2,"cdM":0.0338,"cdP":0.0339,"clM":0.24,"clP":0.242,"cmM":-0.0427,"cmP":-0.0425,"de":-0.0007},
{"t":49.4,"cdM":0.0344,"cdP":0.034,"clM":0.246,"clP":0.244,"cmM":-0.0433,"cmP":-0.0428,"de":0.0004},
{"t":49.6,"cdM":0.0331,"cdP":0.0338,"clM":0.238,"clP":0.241,"cmM":-0.0419,"cmP":-0.0422,"de":-0.0001},
{"t":49.8,"cdM":0.035,"cdP":0.0342,"clM":0.249,"clP":0.245,"cmM":-0.0424,"cmP":-0.0424,"de":0.0016},
{"t":50,"cdM":0.0337,"cdP":0.0339,"clM":0.243,"clP":0.243,"cmM":-0.0416,"cmP":-0.042,"de":0.0005},
{"t":50.2,"cdM":0.0328,"cdP":0.0337,"clM":0.237,"clP":0.24,"cmM":-0.0428,"cmP":-0.0425,"de":-0.0008},
{"t":50.4,"cdM":0.0346,"cdP":0.0341,"clM":0.247,"clP":0.244,"cmM":-0.0421,"cmP":-0.0422,"de":0.0012},
{"t":50.6,"cdM":0.034,"cdP":0.034,"clM":0.241,"clP":0.242,"cmM":-0.0426,"cmP":-0.0424,"de":-0.0004},
{"t":50.8,"cdM":0.0353,"cdP":0.0342,"clM":0.253,"clP":0.246,"cmM":-0.0419,"cmP":-0.0421,"de":-0.0013},
{"t":51,"cdM":0.0337,"cdP":0.0339,"clM":0.242,"clP":0.243,"cmM":-0.0425,"cmP":-0.0424,"de":0.0008},
{"t":51.2,"cdM":0.0345,"cdP":0.0341,"clM":0.238,"clP":0.241,"cmM":-0.0418,"cmP":-0.0421,"de":0.0001},
{"t":51.4,"cdM":0.033,"cdP":0.0338,"clM":0.247,"clP":0.245,"cmM":-0.043,"cmP":-0.0426,"de":-0.001},
{"t":51.6,"cdM":0.0348,"cdP":0.0341,"clM":0.241,"clP":0.242,"cmM":-0.0422,"cmP":-0.0423,"de":0.0014},
{"t":51.8,"cdM":0.0342,"cdP":0.034,"clM":0.25,"clP":0.246,"cmM":-0.0417,"cmP":-0.042,"de":-0.0003},
{"t":52,"cdM":0.035,"cdP":0.0342,"clM":0.236,"clP":0.24,"cmM":-0.0428,"cmP":-0.0425,"de":0.0007},
{"t":52.2,"cdM":0.0339,"cdP":0.0339,"clM":0.246,"clP":0.244,"cmM":-0.0421,"cmP":-0.0422,"de":0},
{"t":52.4,"cdM":0.0344,"cdP":0.0341,"clM":0.243,"clP":0.243,"cmM":-0.0434,"cmP":-0.0428,"de":-0.0009},
{"t":52.6,"cdM":0.0336,"cdP":0.0339,"clM":0.239,"clP":0.241,"cmM":-0.0419,"cmP":-0.0421,"de":0.001},
{"t":52.8,"cdM":0.0349,"cdP":0.0341,"clM":0.248,"clP":0.245,"cmM":-0.0426,"cmP":-0.0424,"de":0.0004},
{"t":53,"cdM":0.0341,"cdP":0.034,"clM":0.244,"clP":0.243,"cmM":-0.0422,"cmP":-0.0423,"de":-0.0005},
{"t":53.2,"cdM":0.0352,"cdP":0.0342,"clM":0.237,"clP":0.241,"cmM":-0.0415,"cmP":-0.0419,"de":0.0013},
{"t":53.4,"cdM":0.0318,"cdP":0.0336,"clM":0.249,"clP":0.245,"cmM":-0.0429,"cmP":-0.0425,"de":0.0003},
{"t":53.6,"cdM":0.0346,"cdP":0.0341,"clM":0.242,"clP":0.243,"cmM":-0.0424,"cmP":-0.0424,"de":-0.0008},
{"t":53.8,"cdM":0.0339,"cdP":0.0339,"clM":0.246,"clP":0.244,"cmM":-0.0418,"cmP":-0.0421,"de":0.0009},
{"t":54,"cdM":0.0351,"cdP":0.0342,"clM":0.239,"clP":0.241,"cmM":-0.0431,"cmP":-0.0427,"de":-0.0001},
{"t":54.2,"cdM":0.0333,"cdP":0.0338,"clM":0.252,"clP":0.246,"cmM":-0.042,"cmP":-0.0422,"de":0.0005},
{"t":54.4,"cdM":0.0347,"cdP":0.0341,"clM":0.241,"clP":0.242,"cmM":-0.0425,"cmP":-0.0424,"de":-0.0012},
{"t":54.6,"cdM":0.0342,"cdP":0.034,"clM":0.236,"clP":0.24,"cmM":-0.0417,"cmP":-0.042,"de":0.0014},
{"t":54.8,"cdM":0.0355,"cdP":0.0342,"clM":0.247,"clP":0.244,"cmM":-0.0428,"cmP":-0.0425,"de":0},
{"t":55,"cdM":0.0338,"cdP":0.0339,"clM":0.243,"clP":0.243,"cmM":-0.0421,"cmP":-0.0422,"de":0.0007},
{"t":55.2,"cdM":0.0344,"cdP":0.0341,"clM":0.25,"clP":0.246,"cmM":-0.0426,"cmP":-0.0424,"de":-0.0004},
{"t":55.4,"cdM":0.035,"cdP":0.0342,"clM":0.238,"clP":0.241,"cmM":-0.0419,"cmP":-0.0421,"de":0.0012},
{"t":55.6,"cdM":0.0336,"cdP":0.0339,"clM":0.245,"clP":0.244,"cmM":-0.0432,"cmP":-0.0427,"de":0.0001},
{"t":55.8,"cdM":0.0348,"cdP":0.0341,"clM":0.241,"clP":0.242,"cmM":-0.0423,"cmP":-0.0423,"de":-0.0016},
{"t":56,"cdM":0.0341,"cdP":0.034,"clM":0.248,"clP":0.245,"cmM":-0.0417,"cmP":-0.042,"de":0.0008},
{"t":56.2,"cdM":0.033,"cdP":0.0338,"clM":0.237,"clP":0.241,"cmM":-0.0428,"cmP":-0.0425,"de":0.0004},
{"t":56.4,"cdM":0.0345,"cdP":0.0341,"clM":0.246,"clP":0.244,"cmM":-0.0422,"cmP":-0.0423,"de":-0.0007},
{"t":56.6,"cdM":0.0352,"cdP":0.0342,"clM":0.242,"clP":0.243,"cmM":-0.043,"cmP":-0.0426,"de":0.0016},
{"t":56.8,"cdM":0.0339,"cdP":0.0339,"clM":0.251,"clP":0.246,"cmM":-0.0419,"cmP":-0.0421,"de":0.0003},
{"t":57,"cdM":0.0346,"cdP":0.0341,"clM":0.24,"clP":0.242,"cmM":-0.0426,"cmP":-0.0424,"de":-0.0003},
{"t":57.2,"cdM":0.0327,"cdP":0.0337,"clM":0.245,"clP":0.244,"cmM":-0.042,"cmP":-0.0422,"de":0.001},
{"t":57.4,"cdM":0.0322,"cdP":0.0336,"clM":0.238,"clP":0.241,"cmM":-0.0431,"cmP":-0.0427,"de":-0.0008},
{"t":57.6,"cdM":0.0348,"cdP":0.0341,"clM":0.249,"clP":0.245,"cmM":-0.0418,"cmP":-0.0421,"de":0.0005},
{"t":57.8,"cdM":0.034,"cdP":0.034,"clM":0.243,"clP":0.243,"cmM":-0.0424,"cmP":-0.0423,"de":0.0017},
{"t":58,"cdM":0.0352,"cdP":0.0342,"clM":0.236,"clP":0.24,"cmM":-0.0433,"cmP":-0.0428,"de":-0.0001},
{"t":58.2,"cdM":0.0336,"cdP":0.0339,"clM":0.247,"clP":0.244,"cmM":-0.0421,"cmP":-0.0423,"de":0.0009},
{"t":58.4,"cdM":0.0344,"cdP":0.0341,"clM":0.242,"clP":0.243,"cmM":-0.0416,"cmP":-0.042,"de":-0.0012},
{"t":58.6,"cdM":0.0333,"cdP":0.0338,"clM":0.242,"clP":0.243,"cmM":-0.0425,"cmP":-0.0424,"de":0.0018},
{"t":58.8,"cdM":0.0349,"cdP":0.0341,"clM":0.247,"clP":0.245,"cmM":-0.0415,"cmP":-0.0419,"de":0.0004},
{"t":59,"cdM":0.0342,"cdP":0.034,"clM":0.258,"clP":0.246,"cmM":-0.042,"cmP":-0.0421,"de":-0.0028},
{"t":59.2,"cdM":0.0348,"cdP":0.0341,"clM":0.24,"clP":0.242,"cmM":-0.0405,"cmP":-0.0413,"de":0.0004},
{"t":59.4,"cdM":0.0338,"cdP":0.0339,"clM":0.224,"clP":0.237,"cmM":-0.0386,"cmP":-0.0405,"de":-0.0006},
{"t":59.6,"cdM":0.0351,"cdP":0.0342,"clM":0.246,"clP":0.243,"cmM":-0.0412,"cmP":-0.0414,"de":0.0002},
{"t":59.8,"cdM":0.033,"cdP":0.0338,"clM":0.238,"clP":0.24,"cmM":-0.0408,"cmP":-0.0412,"de":0.001},
{"t":60,"cdM":0.0328,"cdP":0.0339,"clM":0.242,"clP":0.241,"cmM":-0.0415,"cmP":-0.0416,"de":0.0014}
]},
"resolve":{"scale":{"color":"independent"},"legend":{"color":"independent"}},
"spacing":64.8,
"bounds":"flush",
"vconcat":[
  {"width":1956,"height":151,"data":{"name":"d"},
   "layer":[
    {"mark":{"type":"line","clip":true,"strokeWidth":2},
     "encoding":{
      "x":{"field":"t","type":"quantitative","scale":{"domain":[0,60],"nice":false,"zero":false},"axis":{"orient":"bottom","values":[0,10,20,30,40,50,60],"grid":true,"title":null,"labelPadding":37.5}},
      "y":{"field":"cdM","type":"quantitative","scale":{"domain":[0.03,0.04],"nice":false,"zero":false},"axis":{"orient":"left","values":[0.03,0.035,0.04],"labelExpr":"''+datum.value","grid":true,"labelPadding":27,"labelOffset":3,"title":"C","titleFontSize":30,"titleAngle":270,"titleAlign":"left","titleBaseline":"alphabetic","titleX":-97,"titleY":94}},
      "color":{"datum":"Measured data","type":"nominal","scale":{"domain":["Measured data","Predicted data"],"range":["#0000ff","#ff0000"]},"legend":{"title":null,"orient":"none","legendX":1616,"legendY":15,"symbolType":"M0,0H100","symbolSize":4,"symbolOffset":-13.5,"labelOffset":93,"labelFontSize":27,"symbolStrokeWidth":2,"encode":{"legend":{"update":{"strokeWidth":{"value":2}}}}}}
     }},
    {"mark":{"type":"line","clip":true,"strokeWidth":1.8},
     "encoding":{
      "x":{"field":"t","type":"quantitative","scale":{"domain":[0,60],"nice":false,"zero":false},"axis":null},
      "y":{"field":"cdP","type":"quantitative","scale":{"domain":[0.03,0.04],"nice":false,"zero":false},"axis":null},
      "color":{"datum":"Predicted data","type":"nominal"}
     }},
    {"mark":{"type":"line","strokeOpacity":0},
     "encoding":{
      "x":{"field":"t","type":"quantitative","scale":{"domain":[0,60],"nice":false,"zero":false},"axis":{"orient":"top","values":[10,20,30,40,50],"labels":false,"grid":false,"title":null}},
      "y":{"field":"cdP","type":"quantitative","scale":{"domain":[0.03,0.04],"nice":false,"zero":false},"axis":{"orient":"right","values":[0.035],"labels":false,"grid":false,"title":"D","titleFontSize":21,"titleAngle":270,"titleAlign":"left","titleBaseline":"alphabetic","titleX":-2038,"titleY":72}}
     }}
   ],
   "resolve":{"axis":{"x":"independent","y":"independent"}}
  },
  {"width":1956,"height":151,"data":{"name":"d"},
   "layer":[
    {"mark":{"type":"line","clip":true,"strokeWidth":2},
     "encoding":{
      "x":{"field":"t","type":"quantitative","scale":{"domain":[0,60],"nice":false,"zero":false},"axis":{"orient":"bottom","values":[0,10,20,30,40,50,60],"grid":true,"title":null,"labelPadding":37.5}},
      "y":{"field":"clM","type":"quantitative","scale":{"domain":[0.1713,0.3076],"nice":false,"zero":false},"axis":{"orient":"left","values":[0.2,0.25,0.3],"labelExpr":"''+datum.value","grid":true,"labelPadding":27,"labelOffset":3,"title":"C","titleFontSize":30,"titleAngle":270,"titleAlign":"left","titleBaseline":"alphabetic","titleX":-90,"titleY":90}},
      "color":{"datum":"Measured data","type":"nominal","scale":{"domain":["Measured data","Predicted data"],"range":["#0000ff","#ff0000"]},"legend":{"title":null,"orient":"none","legendX":1616,"legendY":17,"symbolType":"M0,0H100","symbolSize":4,"symbolOffset":-13.5,"labelOffset":93,"labelFontSize":27,"symbolStrokeWidth":2,"encode":{"legend":{"update":{"strokeWidth":{"value":2}}}}}}
     }},
    {"mark":{"type":"line","clip":true,"strokeWidth":1.8},
     "encoding":{
      "x":{"field":"t","type":"quantitative","scale":{"domain":[0,60],"nice":false,"zero":false},"axis":null},
      "y":{"field":"clP","type":"quantitative","scale":{"domain":[0.1713,0.3076],"nice":false,"zero":false},"axis":null},
      "color":{"datum":"Predicted data","type":"nominal"}
     }},
    {"mark":{"type":"line","strokeOpacity":0},
     "encoding":{
      "x":{"field":"t","type":"quantitative","scale":{"domain":[0,60],"nice":false,"zero":false},"axis":{"orient":"top","values":[10,20,30,40,50],"labels":false,"grid":false,"title":null}},
      "y":{"field":"clP","type":"quantitative","scale":{"domain":[0.1713,0.3076],"nice":false,"zero":false},"axis":{"orient":"right","values":[0.2,0.25,0.3],"labels":false,"grid":false,"title":"L","titleFontSize":21,"titleAngle":270,"titleAlign":"left","titleBaseline":"alphabetic","titleX":-2033,"titleY":67}}
     }}
   ],
   "resolve":{"axis":{"x":"independent","y":"independent"}}
  },
  {"width":1956,"height":151,"data":{"name":"d"},
   "layer":[
    {"mark":{"type":"line","clip":true,"strokeWidth":2},
     "encoding":{
      "x":{"field":"t","type":"quantitative","scale":{"domain":[0,60],"nice":false,"zero":false},"axis":{"orient":"bottom","values":[0,10,20,30,40,50,60],"grid":true,"title":null,"labelPadding":37.5}},
      "y":{"field":"cmM","type":"quantitative","scale":{"domain":[-0.06,-0.02],"nice":false,"zero":false},"axis":{"orient":"left","values":[-0.06,-0.04,-0.02],"labelExpr":"''+datum.value","grid":true,"labelPadding":27,"labelOffset":3,"title":"C","titleFontSize":30,"titleAngle":270,"titleAlign":"left","titleBaseline":"alphabetic","titleX":-90,"titleY":97}},
      "color":{"datum":"Measured data","type":"nominal","scale":{"domain":["Measured data","Predicted data"],"range":["#0000ff","#ff0000"]},"legend":{"title":null,"orient":"none","legendX":1616,"legendY":16,"symbolType":"M0,0H100","symbolSize":4,"symbolOffset":-13.5,"labelOffset":93,"labelFontSize":27,"symbolStrokeWidth":1.5,"encode":{"legend":{"update":{"strokeWidth":{"value":2}}}}}}
     }},
    {"mark":{"type":"line","clip":true,"strokeWidth":1.8},
     "encoding":{
      "x":{"field":"t","type":"quantitative","scale":{"domain":[0,60],"nice":false,"zero":false},"axis":null},
      "y":{"field":"cmP","type":"quantitative","scale":{"domain":[-0.06,-0.02],"nice":false,"zero":false},"axis":null},
      "color":{"datum":"Predicted data","type":"nominal"}
     }},
    {"mark":{"type":"line","strokeOpacity":0},
     "encoding":{
      "x":{"field":"t","type":"quantitative","scale":{"domain":[0,60],"nice":false,"zero":false},"axis":{"orient":"top","values":[10,20,30,40,50],"labels":false,"grid":false,"title":null}},
      "y":{"field":"cmP","type":"quantitative","scale":{"domain":[-0.06,-0.02],"nice":false,"zero":false},"axis":{"orient":"right","values":[-0.06,-0.04,-0.02],"labels":false,"grid":false,"title":"m","titleFontSize":21,"titleAngle":270,"titleAlign":"left","titleBaseline":"alphabetic","titleX":-2033,"titleY":74}}
     }}
   ],
   "resolve":{"axis":{"x":"independent","y":"independent"}}
  },
 {"width":1956,"height":151,"data":{"name":"d"},
  "layer":[
   {"mark":{"type":"line","clip":true,"strokeWidth":2},
    "encoding":{
     "x":{"field":"t","type":"quantitative","scale":{"domain":[0,60],"nice":false,"zero":false},"axis":{"orient":"bottom","values":[0,10,20,30,40,50,60],"grid":true,"labelPadding":37.5,"title":"Time in sec","titleFontSize":28,"titleX":978,"titleY":72,"titleAlign":"center","titleBaseline":"alphabetic","titleAngle":0}},
     "y":{"field":"de","type":"quantitative","scale":{"domain":[-0.0207,0.0196],"nice":false,"zero":false},"axis":{"orient":"left","values":[-0.02,-0.01,0,0.01],"labelExpr":"''+datum.value","grid":true,"labelPadding":27,"labelOffset":3,"title":"δ\u00a0\u00a0\u00a0(rad)","titleFontSize":30,"titleAngle":270,"titleAlign":"left","titleBaseline":"alphabetic","titleX":-92,"titleY":131}},
     "color":{"datum":"Input data","type":"nominal","scale":{"domain":["Input data"],"range":["#0000ff"]},"legend":{"title":null,"orient":"none","legendX":1674,"legendY":14,"symbolType":"M0,0H100","symbolSize":4,"symbolOffset":-12.5,"labelOffset":110,"labelFontSize":24.5,"symbolStrokeWidth":1.5,"encode":{"legend":{"update":{"strokeWidth":{"value":2}}}}}}
    }},
   {"mark":{"type":"line","strokeOpacity":0},
    "encoding":{
     "x":{"field":"t","type":"quantitative","scale":{"domain":[0,60],"nice":false,"zero":false},"axis":{"orient":"top","values":[10,20,30,40,50],"labels":false,"grid":false,"title":null}},
     "y":{"field":"de","type":"quantitative","scale":{"domain":[-0.0207,0.0196],"nice":false,"zero":false},"axis":{"orient":"right","values":[-0.02,-0.01,0,0.01],"labels":false,"grid":false,"title":"e","titleFontSize":21,"titleAngle":270,"titleAlign":"left","titleBaseline":"alphabetic","titleX":-2033,"titleY":114}}
    }}
  ],
  "resolve":{"axis":{"x":"independent","y":"independent"}}
 }
]
}
